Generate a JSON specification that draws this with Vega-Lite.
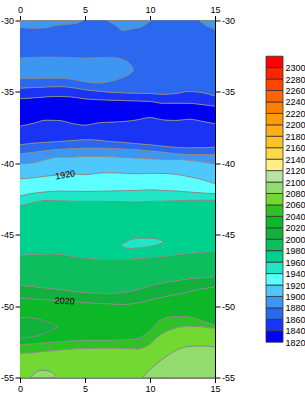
{
"$schema":"https://vega.github.io/schema/vega-lite/v6.json",
"background":"white",
"autosize":{"type":"pad"},
"padding":{"left":0,"top":4.5,"right":0,"bottom":0},
"spacing":51,
"bounds":"flush",
"config":{"font":"Liberation Sans","view":{"stroke":null},
"axis":{"labelFont":"Liberation Sans","labelFontSize":9,"labelColor":"#000","tickColor":"#000","domainColor":"#000","tickSize":5,"labelPadding":1.5,"grid":false,"title":null,"labelFlush":false,"labelOverlap":false,"domainWidth":1,"tickWidth":1}},
"datasets":{
"bands":[
{"id":"t","b":1860,"x":0,"y":-30,"y2":-34.74},{"id":"t","b":1860,"x":1,"y":-30,"y2":-34.70},{"id":"t","b":1860,"x":2,"y":-30,"y2":-34.66},{"id":"t","b":1860,"x":3,"y":-30,"y2":-34.63},{"id":"t","b":1860,"x":4,"y":-30,"y2":-34.70},{"id":"t","b":1860,"x":5,"y":-30,"y2":-34.85},{"id":"t","b":1860,"x":6,"y":-30,"y2":-34.95},{"id":"t","b":1860,"x":7,"y":-30,"y2":-35.03},{"id":"t","b":1860,"x":8,"y":-30,"y2":-35.07},{"id":"t","b":1860,"x":9,"y":-30,"y2":-35.09},{"id":"t","b":1860,"x":10,"y":-30,"y2":-35.11},{"id":"t","b":1860,"x":11,"y":-30,"y2":-35.17},{"id":"t","b":1860,"x":12,"y":-30,"y2":-35.11},{"id":"t","b":1860,"x":13,"y":-30,"y2":-34.97},{"id":"t","b":1860,"x":14,"y":-30,"y2":-35.05},{"id":"t","b":1860,"x":15,"y":-30,"y2":-35.29},
{"id":"cd","b":1840,"x":0,"y":-34.74,"y2":-35.48},{"id":"cd","b":1840,"x":1,"y":-34.70,"y2":-35.42},{"id":"cd","b":1840,"x":2,"y":-34.66,"y2":-35.35},{"id":"cd","b":1840,"x":3,"y":-34.63,"y2":-35.32},{"id":"cd","b":1840,"x":4,"y":-34.70,"y2":-35.36},{"id":"cd","b":1840,"x":5,"y":-34.85,"y2":-35.49},{"id":"cd","b":1840,"x":6,"y":-34.95,"y2":-35.55},{"id":"cd","b":1840,"x":7,"y":-35.03,"y2":-35.58},{"id":"cd","b":1840,"x":8,"y":-35.07,"y2":-35.61},{"id":"cd","b":1840,"x":9,"y":-35.09,"y2":-35.64},{"id":"cd","b":1840,"x":10,"y":-35.11,"y2":-35.67},{"id":"cd","b":1840,"x":11,"y":-35.17,"y2":-35.80},{"id":"cd","b":1840,"x":12,"y":-35.11,"y2":-35.79},{"id":"cd","b":1840,"x":13,"y":-34.97,"y2":-35.80},{"id":"cd","b":1840,"x":14,"y":-35.05,"y2":-35.89},{"id":"cd","b":1840,"x":15,"y":-35.29,"y2":-36.00},
{"id":"de","b":1820,"x":0,"y":-35.48,"y2":-37.40},{"id":"de","b":1820,"x":1,"y":-35.42,"y2":-37.21},{"id":"de","b":1820,"x":2,"y":-35.35,"y2":-36.98},{"id":"de","b":1820,"x":3,"y":-35.32,"y2":-37.00},{"id":"de","b":1820,"x":4,"y":-35.36,"y2":-37.21},{"id":"de","b":1820,"x":5,"y":-35.49,"y2":-37.33},{"id":"de","b":1820,"x":6,"y":-35.55,"y2":-37.17},{"id":"de","b":1820,"x":7,"y":-35.58,"y2":-37.12},{"id":"de","b":1820,"x":8,"y":-35.61,"y2":-37.07},{"id":"de","b":1820,"x":9,"y":-35.64,"y2":-36.96},{"id":"de","b":1820,"x":10,"y":-35.67,"y2":-36.80},{"id":"de","b":1820,"x":11,"y":-35.80,"y2":-36.96},{"id":"de","b":1820,"x":12,"y":-35.79,"y2":-37.00},{"id":"de","b":1820,"x":13,"y":-35.80,"y2":-36.91},{"id":"de","b":1820,"x":14,"y":-35.89,"y2":-37.06},{"id":"de","b":1820,"x":15,"y":-36.00,"y2":-37.23},
{"id":"ef","b":1840,"x":0,"y":-37.40,"y2":-38.70},{"id":"ef","b":1840,"x":1,"y":-37.21,"y2":-38.59},{"id":"ef","b":1840,"x":2,"y":-36.98,"y2":-38.53},{"id":"ef","b":1840,"x":3,"y":-37.00,"y2":-38.47},{"id":"ef","b":1840,"x":4,"y":-37.21,"y2":-38.41},{"id":"ef","b":1840,"x":5,"y":-37.33,"y2":-38.35},{"id":"ef","b":1840,"x":6,"y":-37.17,"y2":-38.38},{"id":"ef","b":1840,"x":7,"y":-37.12,"y2":-38.48},{"id":"ef","b":1840,"x":8,"y":-37.07,"y2":-38.54},{"id":"ef","b":1840,"x":9,"y":-36.96,"y2":-38.63},{"id":"ef","b":1840,"x":10,"y":-36.80,"y2":-38.70},{"id":"ef","b":1840,"x":11,"y":-36.96,"y2":-38.80},{"id":"ef","b":1840,"x":12,"y":-37.00,"y2":-38.88},{"id":"ef","b":1840,"x":13,"y":-36.91,"y2":-38.92},{"id":"ef","b":1840,"x":14,"y":-37.06,"y2":-38.91},{"id":"ef","b":1840,"x":15,"y":-37.23,"y2":-38.87},
{"id":"fg","b":1860,"x":0,"y":-38.70,"y2":-39.33},{"id":"fg","b":1860,"x":1,"y":-38.59,"y2":-39.24},{"id":"fg","b":1860,"x":2,"y":-38.53,"y2":-39.12},{"id":"fg","b":1860,"x":3,"y":-38.47,"y2":-39.02},{"id":"fg","b":1860,"x":4,"y":-38.41,"y2":-38.98},{"id":"fg","b":1860,"x":5,"y":-38.35,"y2":-38.94},{"id":"fg","b":1860,"x":6,"y":-38.38,"y2":-38.94},{"id":"fg","b":1860,"x":7,"y":-38.48,"y2":-38.96},{"id":"fg","b":1860,"x":8,"y":-38.54,"y2":-39.00},{"id":"fg","b":1860,"x":9,"y":-38.63,"y2":-39.05},{"id":"fg","b":1860,"x":10,"y":-38.70,"y2":-39.13},{"id":"fg","b":1860,"x":11,"y":-38.80,"y2":-39.22},{"id":"fg","b":1860,"x":12,"y":-38.88,"y2":-39.33},{"id":"fg","b":1860,"x":13,"y":-38.92,"y2":-39.38},{"id":"fg","b":1860,"x":14,"y":-38.91,"y2":-39.39},{"id":"fg","b":1860,"x":15,"y":-38.87,"y2":-39.38},
{"id":"gh","b":1880,"x":0,"y":-39.33,"y2":-40.03},{"id":"gh","b":1880,"x":1,"y":-39.24,"y2":-39.97},{"id":"gh","b":1880,"x":2,"y":-39.12,"y2":-39.73},{"id":"gh","b":1880,"x":3,"y":-39.02,"y2":-39.57},{"id":"gh","b":1880,"x":4,"y":-38.98,"y2":-39.57},{"id":"gh","b":1880,"x":5,"y":-38.94,"y2":-39.52},{"id":"gh","b":1880,"x":6,"y":-38.94,"y2":-39.52},{"id":"gh","b":1880,"x":7,"y":-38.96,"y2":-39.54},{"id":"gh","b":1880,"x":8,"y":-39.00,"y2":-39.59},{"id":"gh","b":1880,"x":9,"y":-39.05,"y2":-39.64},{"id":"gh","b":1880,"x":10,"y":-39.13,"y2":-39.68},{"id":"gh","b":1880,"x":11,"y":-39.22,"y2":-39.73},{"id":"gh","b":1880,"x":12,"y":-39.33,"y2":-39.73},{"id":"gh","b":1880,"x":13,"y":-39.38,"y2":-39.79},{"id":"gh","b":1880,"x":14,"y":-39.39,"y2":-39.91},{"id":"gh","b":1880,"x":15,"y":-39.38,"y2":-40.03},
{"id":"hi","b":1900,"x":0,"y":-40.03,"y2":-41.08},{"id":"hi","b":1900,"x":1,"y":-39.97,"y2":-41.02},{"id":"hi","b":1900,"x":2,"y":-39.73,"y2":-40.90},{"id":"hi","b":1900,"x":3,"y":-39.57,"y2":-40.80},{"id":"hi","b":1900,"x":4,"y":-39.57,"y2":-40.75},{"id":"hi","b":1900,"x":5,"y":-39.52,"y2":-40.80},{"id":"hi","b":1900,"x":6,"y":-39.52,"y2":-40.69},{"id":"hi","b":1900,"x":7,"y":-39.54,"y2":-40.66},{"id":"hi","b":1900,"x":8,"y":-39.59,"y2":-40.70},{"id":"hi","b":1900,"x":9,"y":-39.64,"y2":-40.73},{"id":"hi","b":1900,"x":10,"y":-39.68,"y2":-40.70},{"id":"hi","b":1900,"x":11,"y":-39.73,"y2":-40.71},{"id":"hi","b":1900,"x":12,"y":-39.73,"y2":-40.77},{"id":"hi","b":1900,"x":13,"y":-39.79,"y2":-40.94},{"id":"hi","b":1900,"x":14,"y":-39.91,"y2":-41.14},{"id":"hi","b":1900,"x":15,"y":-40.03,"y2":-41.42},
{"id":"ij","b":1920,"x":0,"y":-41.08,"y2":-42.29},{"id":"ij","b":1920,"x":1,"y":-41.02,"y2":-42.10},{"id":"ij","b":1920,"x":2,"y":-40.90,"y2":-42.00},{"id":"ij","b":1920,"x":3,"y":-40.80,"y2":-41.95},{"id":"ij","b":1920,"x":4,"y":-40.75,"y2":-41.96},{"id":"ij","b":1920,"x":5,"y":-40.80,"y2":-41.97},{"id":"ij","b":1920,"x":6,"y":-40.69,"y2":-41.96},{"id":"ij","b":1920,"x":7,"y":-40.66,"y2":-41.94},{"id":"ij","b":1920,"x":8,"y":-40.70,"y2":-41.92},{"id":"ij","b":1920,"x":9,"y":-40.73,"y2":-41.90},{"id":"ij","b":1920,"x":10,"y":-40.70,"y2":-41.86},{"id":"ij","b":1920,"x":11,"y":-40.71,"y2":-41.90},{"id":"ij","b":1920,"x":12,"y":-40.77,"y2":-41.94},{"id":"ij","b":1920,"x":13,"y":-40.94,"y2":-42.01},{"id":"ij","b":1920,"x":14,"y":-41.14,"y2":-42.08},{"id":"ij","b":1920,"x":15,"y":-41.42,"y2":-42.13},
{"id":"jk","b":1940,"x":0,"y":-42.29,"y2":-42.99},{"id":"jk","b":1940,"x":1,"y":-42.10,"y2":-42.75},{"id":"jk","b":1940,"x":2,"y":-42.00,"y2":-42.60},{"id":"jk","b":1940,"x":3,"y":-41.95,"y2":-42.62},{"id":"jk","b":1940,"x":4,"y":-41.96,"y2":-42.65},{"id":"jk","b":1940,"x":5,"y":-41.97,"y2":-42.66},{"id":"jk","b":1940,"x":6,"y":-41.96,"y2":-42.66},{"id":"jk","b":1940,"x":7,"y":-41.94,"y2":-42.68},{"id":"jk","b":1940,"x":8,"y":-41.92,"y2":-42.69},{"id":"jk","b":1940,"x":9,"y":-41.90,"y2":-42.70},{"id":"jk","b":1940,"x":10,"y":-41.86,"y2":-42.67},{"id":"jk","b":1940,"x":11,"y":-41.90,"y2":-42.65},{"id":"jk","b":1940,"x":12,"y":-41.94,"y2":-42.62},{"id":"jk","b":1940,"x":13,"y":-42.01,"y2":-42.60},{"id":"jk","b":1940,"x":14,"y":-42.08,"y2":-42.59},{"id":"jk","b":1940,"x":15,"y":-42.13,"y2":-42.59},
{"id":"km","b":1960,"x":0,"y":-42.99,"y2":-46.44},{"id":"km","b":1960,"x":1,"y":-42.75,"y2":-46.39},{"id":"km","b":1960,"x":2,"y":-42.60,"y2":-46.35},{"id":"km","b":1960,"x":3,"y":-42.62,"y2":-46.37},{"id":"km","b":1960,"x":4,"y":-42.65,"y2":-46.52},{"id":"km","b":1960,"x":5,"y":-42.66,"y2":-46.63},{"id":"km","b":1960,"x":6,"y":-42.66,"y2":-46.72},{"id":"km","b":1960,"x":7,"y":-42.68,"y2":-46.74},{"id":"km","b":1960,"x":8,"y":-42.69,"y2":-46.74},{"id":"km","b":1960,"x":9,"y":-42.70,"y2":-46.68},{"id":"km","b":1960,"x":10,"y":-42.67,"y2":-46.62},{"id":"km","b":1960,"x":11,"y":-42.65,"y2":-46.52},{"id":"km","b":1960,"x":12,"y":-42.62,"y2":-46.42},{"id":"km","b":1960,"x":13,"y":-42.60,"y2":-46.31},{"id":"km","b":1960,"x":14,"y":-42.59,"y2":-46.23},{"id":"km","b":1960,"x":15,"y":-42.59,"y2":-46.16},
{"id":"mn","b":1980,"x":0,"y":-46.44,"y2":-48.54},{"id":"mn","b":1980,"x":1,"y":-46.39,"y2":-48.64},{"id":"mn","b":1980,"x":2,"y":-46.35,"y2":-48.74},{"id":"mn","b":1980,"x":3,"y":-46.37,"y2":-48.83},{"id":"mn","b":1980,"x":4,"y":-46.52,"y2":-48.96},{"id":"mn","b":1980,"x":5,"y":-46.63,"y2":-49.06},{"id":"mn","b":1980,"x":6,"y":-46.72,"y2":-49.09},{"id":"mn","b":1980,"x":7,"y":-46.74,"y2":-49.12},{"id":"mn","b":1980,"x":8,"y":-46.74,"y2":-49.05},{"id":"mn","b":1980,"x":9,"y":-46.68,"y2":-48.86},{"id":"mn","b":1980,"x":9.5,"y":-46.65,"y2":-48.73},{"id":"mn","b":1980,"x":10,"y":-46.62,"y2":-48.59},{"id":"mn","b":1980,"x":10.5,"y":-46.57,"y2":-48.47},{"id":"mn","b":1980,"x":11,"y":-46.52,"y2":-48.40},{"id":"mn","b":1980,"x":11.5,"y":-46.47,"y2":-48.30},{"id":"mn","b":1980,"x":12,"y":-46.42,"y2":-48.23},{"id":"mn","b":1980,"x":13,"y":-46.31,"y2":-48.09},{"id":"mn","b":1980,"x":14,"y":-46.23,"y2":-48.01},{"id":"mn","b":1980,"x":15,"y":-46.16,"y2":-47.96},
{"id":"no","b":2000,"x":0,"y":-48.54,"y2":-49.43},{"id":"no","b":2000,"x":1,"y":-48.64,"y2":-49.50},{"id":"no","b":2000,"x":2,"y":-48.74,"y2":-49.56},{"id":"no","b":2000,"x":3,"y":-48.83,"y2":-49.62},{"id":"no","b":2000,"x":4,"y":-48.96,"y2":-49.68},{"id":"no","b":2000,"x":5,"y":-49.06,"y2":-49.75},{"id":"no","b":2000,"x":6,"y":-49.09,"y2":-49.82},{"id":"no","b":2000,"x":7,"y":-49.12,"y2":-49.85},{"id":"no","b":2000,"x":8,"y":-49.05,"y2":-49.88},{"id":"no","b":2000,"x":9,"y":-48.86,"y2":-49.79},{"id":"no","b":2000,"x":9.5,"y":-48.73,"y2":-49.70},{"id":"no","b":2000,"x":10,"y":-48.59,"y2":-49.58},{"id":"no","b":2000,"x":10.5,"y":-48.47,"y2":-49.47},{"id":"no","b":2000,"x":11,"y":-48.40,"y2":-49.38},{"id":"no","b":2000,"x":11.5,"y":-48.30,"y2":-49.28},{"id":"no","b":2000,"x":12,"y":-48.23,"y2":-49.19},{"id":"no","b":2000,"x":13,"y":-48.09,"y2":-49.00},{"id":"no","b":2000,"x":14,"y":-48.01,"y2":-48.79},{"id":"no","b":2000,"x":15,"y":-47.96,"y2":-48.66},
{"id":"oq","b":2020,"x":0,"y":-49.43,"y2":-52.69},{"id":"oq","b":2020,"x":1,"y":-49.50,"y2":-52.63},{"id":"oq","b":2020,"x":2,"y":-49.56,"y2":-52.57},{"id":"oq","b":2020,"x":3,"y":-49.62,"y2":-52.49},{"id":"oq","b":2020,"x":4,"y":-49.68,"y2":-52.43},{"id":"oq","b":2020,"x":5,"y":-49.75,"y2":-52.39},{"id":"oq","b":2020,"x":6,"y":-49.82,"y2":-52.39},{"id":"oq","b":2020,"x":7,"y":-49.85,"y2":-52.39},{"id":"oq","b":2020,"x":8,"y":-49.88,"y2":-52.35},{"id":"oq","b":2020,"x":9,"y":-49.79,"y2":-52.29},{"id":"oq","b":2020,"x":9.5,"y":-49.70,"y2":-52.08},{"id":"oq","b":2020,"x":10,"y":-49.58,"y2":-51.74},{"id":"oq","b":2020,"x":10.5,"y":-49.47,"y2":-51.22},{"id":"oq","b":2020,"x":11,"y":-49.38,"y2":-50.91},{"id":"oq","b":2020,"x":11.5,"y":-49.28,"y2":-50.77},{"id":"oq","b":2020,"x":12,"y":-49.19,"y2":-50.72},{"id":"oq","b":2020,"x":13,"y":-49.00,"y2":-50.76},{"id":"oq","b":2020,"x":14,"y":-48.79,"y2":-51.03},{"id":"oq","b":2020,"x":15,"y":-48.66,"y2":-51.34},
{"id":"qr","b":2040,"x":0,"y":-52.69,"y2":-53.32},{"id":"qr","b":2040,"x":1,"y":-52.63,"y2":-53.26},{"id":"qr","b":2040,"x":2,"y":-52.57,"y2":-53.16},{"id":"qr","b":2040,"x":3,"y":-52.49,"y2":-53.08},{"id":"qr","b":2040,"x":4,"y":-52.43,"y2":-53.01},{"id":"qr","b":2040,"x":5,"y":-52.39,"y2":-52.96},{"id":"qr","b":2040,"x":6,"y":-52.39,"y2":-52.95},{"id":"qr","b":2040,"x":7,"y":-52.39,"y2":-52.94},{"id":"qr","b":2040,"x":8,"y":-52.35,"y2":-52.96},{"id":"qr","b":2040,"x":9,"y":-52.29,"y2":-53.01},{"id":"qr","b":2040,"x":9.5,"y":-52.08,"y2":-52.90},{"id":"qr","b":2040,"x":10,"y":-51.74,"y2":-52.68},{"id":"qr","b":2040,"x":10.5,"y":-51.22,"y2":-52.23},{"id":"qr","b":2040,"x":11,"y":-50.91,"y2":-51.90},{"id":"qr","b":2040,"x":11.5,"y":-50.77,"y2":-51.68},{"id":"qr","b":2040,"x":12,"y":-50.72,"y2":-51.54},{"id":"qr","b":2040,"x":13,"y":-50.76,"y2":-51.41},{"id":"qr","b":2040,"x":14,"y":-51.03,"y2":-51.45},{"id":"qr","b":2040,"x":15,"y":-51.34,"y2":-51.57},
{"id":"rb","b":2060,"x":0,"y":-53.32,"y2":-55},{"id":"rb","b":2060,"x":1,"y":-53.26,"y2":-55},{"id":"rb","b":2060,"x":2,"y":-53.16,"y2":-55},{"id":"rb","b":2060,"x":3,"y":-53.08,"y2":-55},{"id":"rb","b":2060,"x":4,"y":-53.01,"y2":-55},{"id":"rb","b":2060,"x":5,"y":-52.96,"y2":-55},{"id":"rb","b":2060,"x":6,"y":-52.95,"y2":-55},{"id":"rb","b":2060,"x":7,"y":-52.94,"y2":-55},{"id":"rb","b":2060,"x":8,"y":-52.96,"y2":-55},{"id":"rb","b":2060,"x":9,"y":-53.01,"y2":-55},{"id":"rb","b":2060,"x":9.5,"y":-52.90,"y2":-55},{"id":"rb","b":2060,"x":10,"y":-52.68,"y2":-55},{"id":"rb","b":2060,"x":10.5,"y":-52.23,"y2":-55},{"id":"rb","b":2060,"x":11,"y":-51.90,"y2":-55},{"id":"rb","b":2060,"x":11.5,"y":-51.68,"y2":-55},{"id":"rb","b":2060,"x":12,"y":-51.54,"y2":-55},{"id":"rb","b":2060,"x":13,"y":-51.41,"y2":-55},{"id":"rb","b":2060,"x":14,"y":-51.45,"y2":-55},{"id":"rb","b":2060,"x":15,"y":-51.57,"y2":-55}
],
"blobs":[
{"id":"A","b":1880,"x":0,"y":-30,"y2":-30.47},{"id":"A","b":1880,"x":0.98,"y":-30,"y2":-30.54},{"id":"A","b":1880,"x":1.98,"y":-30,"y2":-30.51},{"id":"A","b":1880,"x":2.75,"y":-30,"y2":-30.35},{"id":"A","b":1880,"x":3.5,"y":-30,"y2":-30.28},{"id":"A","b":1880,"x":4.29,"y":-30,"y2":-30.21},{"id":"A","b":1880,"x":4.81,"y":-30,"y2":-30},
{"id":"TM","b":1880,"x":6.73,"y":-30,"y2":-30},{"id":"TM","b":1880,"x":7.37,"y":-30,"y2":-30.35},{"id":"TM","b":1880,"x":7.89,"y":-30,"y2":-30.70},{"id":"TM","b":1880,"x":8.66,"y":-30,"y2":-30.58},{"id":"TM","b":1880,"x":9.43,"y":-30,"y2":-30.40},{"id":"TM","b":1880,"x":10.07,"y":-30,"y2":-30},
{"id":"TR","b":1880,"x":13.79,"y":-30,"y2":-30},{"id":"TR","b":1880,"x":14.31,"y":-30,"y2":-30.35},{"id":"TR","b":1880,"x":15,"y":-30,"y2":-30.63},
{"id":"B","b":1880,"x":0,"y":-32.64,"y2":-34.08},{"id":"B","b":1880,"x":1,"y":-32.58,"y2":-34.07},{"id":"B","b":1880,"x":2,"y":-32.57,"y2":-34.04},{"id":"B","b":1880,"x":3,"y":-32.57,"y2":-34.04},{"id":"B","b":1880,"x":4,"y":-32.60,"y2":-34.12},{"id":"B","b":1880,"x":5,"y":-32.63,"y2":-34.29},{"id":"B","b":1880,"x":6,"y":-32.60,"y2":-34.38},{"id":"B","b":1880,"x":7,"y":-32.57,"y2":-34.25},{"id":"B","b":1880,"x":8,"y":-32.76,"y2":-33.95},{"id":"B","b":1880,"x":8.5,"y":-33.08,"y2":-33.72},{"id":"B","b":1880,"x":8.65,"y":-33.29,"y2":-33.57},{"id":"B","b":1880,"x":8.73,"y":-33.46,"y2":-33.46},
{"id":"L","b":1940,"x":7.76,"y":-45.70,"y2":-45.70},{"id":"L","b":1940,"x":8,"y":-45.58,"y2":-45.90},{"id":"L","b":1940,"x":8.5,"y":-45.34,"y2":-45.97},{"id":"L","b":1940,"x":9,"y":-45.27,"y2":-45.93},{"id":"L","b":1940,"x":9.5,"y":-45.23,"y2":-45.90},{"id":"L","b":1940,"x":10,"y":-45.25,"y2":-45.82},{"id":"L","b":1940,"x":10.5,"y":-45.29,"y2":-45.73},{"id":"L","b":1940,"x":10.8,"y":-45.37,"y2":-45.64},{"id":"L","b":1940,"x":11.09,"y":-45.48,"y2":-45.48},
{"id":"P","b":2000,"x":0,"y":-50.80,"y2":-52.23},{"id":"P","b":2000,"x":1,"y":-50.84,"y2":-52.15},{"id":"P","b":2000,"x":2,"y":-51.07,"y2":-51.87},{"id":"P","b":2000,"x":2.5,"y":-51.25,"y2":-51.66},{"id":"P","b":2000,"x":2.9,"y":-51.47,"y2":-51.47},
{"id":"T","b":2080,"x":0.82,"y":-55,"y2":-55},{"id":"T","b":2080,"x":1.21,"y":-54.65,"y2":-55},{"id":"T","b":2080,"x":1.73,"y":-54.49,"y2":-55},{"id":"T","b":2080,"x":2.23,"y":-54.56,"y2":-55},{"id":"T","b":2080,"x":2.70,"y":-54.84,"y2":-55},{"id":"T","b":2080,"x":2.80,"y":-55,"y2":-55},
{"id":"S","b":2080,"x":9.43,"y":-55,"y2":-55},{"id":"S","b":2080,"x":9.7,"y":-54.73,"y2":-55},{"id":"S","b":2080,"x":10,"y":-54.43,"y2":-55},{"id":"S","b":2080,"x":10.5,"y":-54.04,"y2":-55},{"id":"S","b":2080,"x":11,"y":-53.69,"y2":-55},{"id":"S","b":2080,"x":11.5,"y":-53.37,"y2":-55},{"id":"S","b":2080,"x":12,"y":-53.10,"y2":-55},{"id":"S","b":2080,"x":13,"y":-52.82,"y2":-55},{"id":"S","b":2080,"x":14,"y":-52.79,"y2":-55},{"id":"S","b":2080,"x":15,"y":-52.86,"y2":-55}
],
"labels":[{"t":"1920","x":3.47,"y":-40.81},{"t":"2020","x":3.44,"y":-49.65}],
"legend":[
{"lo":1820,"hi":1840},{"lo":1840,"hi":1860},{"lo":1860,"hi":1880},{"lo":1880,"hi":1900},{"lo":1900,"hi":1920},{"lo":1920,"hi":1940},{"lo":1940,"hi":1960},{"lo":1960,"hi":1980},{"lo":1980,"hi":2000},{"lo":2000,"hi":2020},{"lo":2020,"hi":2040},{"lo":2040,"hi":2060},{"lo":2060,"hi":2080},{"lo":2080,"hi":2100},{"lo":2100,"hi":2120},{"lo":2120,"hi":2140},{"lo":2140,"hi":2160},{"lo":2160,"hi":2180},{"lo":2180,"hi":2200},{"lo":2200,"hi":2220},{"lo":2220,"hi":2240},{"lo":2240,"hi":2260},{"lo":2260,"hi":2280},{"lo":2280,"hi":2300},{"lo":2300,"hi":2320}
]
},
"resolve":{"scale":{"color":"shared"}},
"hconcat":[
{
"width":195,"height":357,
"resolve":{"axis":{"x":"independent","y":"independent"}},
"layer":[
{"data":{"name":"bands"},"mark":{"type":"area","interpolate":"monotone"},
"encoding":{
"x":{"field":"x","type":"quantitative","scale":{"domain":[0,15],"nice":false,"zero":false},"axis":{"orient":"bottom","values":[0,5,10,15]}},
"y":{"field":"y","type":"quantitative","stack":null,"scale":{"domain":[-55,-30],"nice":false,"zero":false},"axis":{"orient":"left","values":[-55,-50,-45,-40,-35,-30],"labelExpr":"''+datum.value"}},
"y2":{"field":"y2"},
"color":{"field":"b","type":"ordinal","scale":{"domain":[1820,1840,1860,1880,1900,1920,1940,1960,1980,2000,2020,2040,2060,2080,2100,2120,2140,2160,2180,2200,2220,2240,2260,2280,2300],"range":["#0000F5","#1A34F5","#2A68F0","#3C96F2","#4EC8FA","#5CFFFF","#20E6C8","#00D08E","#0EBE5C","#12B03C","#0CB828","#30C224","#72D832","#92DC6E","#B8E4A0","#FFF084","#FFD848","#FFC224","#FFAE14","#FF9A08","#FF8000","#FF6400","#FF4400","#FF2400","#FF0000"]},"legend":null},
"detail":{"field":"id"}}},
{"data":{"name":"blobs"},"mark":{"type":"area","interpolate":"monotone"},
"encoding":{
"x":{"field":"x","type":"quantitative","axis":null},
"y":{"field":"y","type":"quantitative","stack":null,"axis":null},
"y2":{"field":"y2"},
"color":{"field":"b","type":"ordinal","legend":null},
"detail":{"field":"id"}}},
{"data":{"name":"bands"},"transform":[{"filter":"datum.id !== 't'"}],"mark":{"type":"line","interpolate":"monotone","color":"#888888","strokeWidth":1},
"encoding":{
"x":{"field":"x","type":"quantitative","axis":{"orient":"top","values":[0,5,10,15]}},
"y":{"field":"y","type":"quantitative","axis":{"orient":"right","values":[-55,-50,-45,-40,-35,-30],"labelExpr":"''+datum.value"}},
"detail":{"field":"id"}}},
{"data":{"name":"blobs"},"mark":{"type":"line","interpolate":"monotone","color":"#888888","strokeWidth":1},
"encoding":{
"x":{"field":"x","type":"quantitative","axis":null},
"y":{"field":"y","type":"quantitative","axis":null},
"detail":{"field":"id"}}},
{"data":{"name":"blobs"},"mark":{"type":"line","interpolate":"monotone","color":"#888888","strokeWidth":1},
"encoding":{
"x":{"field":"x","type":"quantitative","axis":null},
"y":{"field":"y2","type":"quantitative","axis":null},
"detail":{"field":"id"}}},
{"data":{"name":"labels"},"transform":[{"filter":"datum.t === '1920'"}],"mark":{"type":"text","font":"Liberation Sans","fontSize":9,"color":"#000","angle":-10,"align":"center","baseline":"middle"},
"encoding":{
"x":{"field":"x","type":"quantitative","axis":null},
"y":{"field":"y","type":"quantitative","axis":null},
"text":{"field":"t"}}},
{"data":{"name":"labels"},"transform":[{"filter":"datum.t === '2020'"}],"mark":{"type":"text","font":"Liberation Sans","fontSize":9,"color":"#000","angle":3,"align":"center","baseline":"middle"},
"encoding":{
"x":{"field":"x","type":"quantitative","axis":null},
"y":{"field":"y","type":"quantitative","axis":null},
"text":{"field":"t"}}}
]
},
{
"width":17,"height":357,
"data":{"name":"legend"},
"mark":{"type":"rect","stroke":"#333333","strokeWidth":0.8},
"encoding":{
"y":{"field":"lo","type":"quantitative","scale":{"domain":[1758.3,2382.4],"nice":false,"zero":false},"axis":{"orient":"right","values":[1820,1840,1860,1880,1900,1920,1940,1960,1980,2000,2020,2040,2060,2080,2100,2120,2140,2160,2180,2200,2220,2240,2260,2280,2300],"ticks":false,"domain":false,"labelPadding":2,"labelExpr":"''+datum.value"}},
"y2":{"field":"hi"},
"color":{"field":"lo","type":"ordinal","legend":null}
}
}
]
}
